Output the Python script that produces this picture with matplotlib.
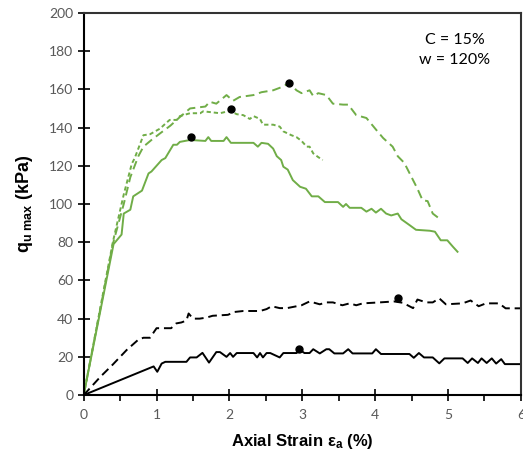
import matplotlib
matplotlib.use("Agg")
import matplotlib.pyplot as plt
from matplotlib.ticker import MultipleLocator

plt.rcParams['mathtext.fontset'] = 'custom'
plt.rcParams['mathtext.rm'] = 'Liberation Sans'
plt.rcParams['mathtext.bf'] = 'Liberation Sans:bold'
plt.rcParams['mathtext.it'] = 'Liberation Sans:italic'

# Green solid
gs_x = [0, 0.41, 0.52, 0.55, 0.64, 0.68, 0.80, 0.89, 0.93, 1.07, 1.12, 1.23, 1.28, 1.32, 1.46, 1.67, 1.71, 1.75, 1.92, 1.96, 2.02, 2.33, 2.39, 2.44, 2.53, 2.60, 2.65, 2.71, 2.74, 2.80, 2.87, 2.97, 3.05, 3.13, 3.22, 3.31, 3.49, 3.56, 3.60, 3.65, 3.81, 3.88, 3.95, 4.01, 4.08, 4.15, 4.22, 4.31, 4.36, 4.47, 4.56, 4.75, 4.82, 4.90, 4.99, 5.07, 5.13]
gs_y = [0, 79, 84, 95, 97, 104, 107, 116, 117, 123, 124, 131, 131, 132.5, 133.5, 133, 135, 133, 133, 135, 132, 132, 130, 132, 131.5, 129, 125, 123, 119.5, 118, 112.5, 109, 108, 104, 104, 101, 101, 98.5, 100, 98, 98, 96, 97.5, 95.5, 97.5, 95, 94, 95, 92, 89, 86.5, 86, 85.5, 81, 81, 77.5, 75]

# Green short dash
gd_x = [0, 0.40, 0.55, 0.66, 0.70, 0.82, 0.91, 0.98, 1.05, 1.12, 1.18, 1.28, 1.32, 1.46, 1.60, 1.64, 1.87, 1.98, 2.02, 2.10, 2.19, 2.28, 2.33, 2.42, 2.46, 2.60, 2.69, 2.74, 2.85, 2.92, 2.99, 3.06, 3.10, 3.15, 3.22, 3.28]
gd_y = [0, 80, 105, 121, 124, 136, 136.5, 138, 139.5, 142, 144, 144, 146, 147.5, 147.5, 148.5, 147.5, 148.5, 148.5, 147, 146.5, 144.5, 146, 144.5, 141.5, 141.5, 140.5, 138, 136, 135, 133, 130, 130, 126.5, 124.5, 123]

# Green long dash
gl_x = [0, 0.40, 0.55, 0.64, 0.75, 0.82, 0.93, 1.05, 1.19, 1.32, 1.46, 1.67, 1.73, 1.82, 1.96, 2.05, 2.14, 2.33, 2.44, 2.60, 2.74, 2.82, 2.92, 2.99, 3.10, 3.15, 3.22, 3.33, 3.42, 3.56, 3.63, 3.74, 3.88, 4.01, 4.11, 4.24, 4.31, 4.40, 4.52, 4.58, 4.65, 4.72, 4.79, 4.91]
gl_y = [0, 79, 100, 114, 125, 130, 133.5, 137, 141, 145.5, 150, 151, 153.5, 152.5, 157, 154, 156, 157, 158.5, 159.5, 161.5, 163.5, 159.5, 158, 159.5, 156.5, 158, 157, 152.5, 152, 152, 146.5, 145, 139, 134.5, 130, 125, 121.5, 112.5, 108, 102, 101.5, 95, 91.5]

# Black solid
bs_x = [0, 0.96, 1.01, 1.07, 1.12, 1.41, 1.46, 1.55, 1.63, 1.72, 1.82, 1.87, 1.96, 2.01, 2.05, 2.10, 2.28, 2.33, 2.38, 2.42, 2.46, 2.51, 2.56, 2.69, 2.74, 2.92, 2.97, 3.03, 3.10, 3.15, 3.24, 3.33, 3.37, 3.44, 3.56, 3.63, 3.69, 3.87, 3.96, 4.01, 4.08, 4.47, 4.53, 4.60, 4.67, 4.79, 4.88, 4.95, 5.20, 5.27, 5.33, 5.41, 5.46, 5.53, 5.60, 5.66, 5.73, 5.78, 5.84, 6.0]
bs_y = [0, 15, 12.2, 16.5, 17.4, 17.4, 19.7, 19.7, 22.1, 17, 22.5, 22.5, 20, 22, 20, 22, 22, 22, 19.7, 22, 19.7, 22, 22, 19.7, 22, 22, 23.5, 22, 22, 24, 21.8, 24, 24, 21.8, 21.8, 24, 21.8, 21.8, 21.8, 24, 21.5, 21.5, 19.5, 22, 19.7, 19.7, 16.6, 19.2, 19.2, 16.8, 19.2, 16.8, 19.2, 16.8, 19.2, 16.5, 18.8, 16.2, 16.2, 16.2]

# Black dashed
bd_x = [0, 0.23, 0.40, 0.59, 0.75, 0.82, 0.91, 1.00, 1.20, 1.27, 1.34, 1.41, 1.44, 1.50, 1.59, 1.68, 1.77, 1.98, 2.07, 2.19, 2.42, 2.51, 2.58, 2.69, 2.79, 2.99, 3.10, 3.24, 3.33, 3.42, 3.55, 3.65, 3.74, 3.83, 4.06, 4.26, 4.38, 4.52, 4.58, 4.70, 4.79, 4.88, 4.97, 5.20, 5.31, 5.42, 5.52, 5.70, 5.79, 6.0]
bd_y = [0, 9.6, 16, 23.6, 29, 30, 30, 35, 35, 37.5, 38, 39, 42.7, 40, 40, 40.5, 41.5, 42, 43.5, 44, 44, 45, 46.5, 45.5, 45.5, 47, 49, 47.5, 48.5, 48.5, 47, 48, 47, 48, 48.5, 49, 48.3, 45.5, 50, 48.5, 48.5, 50.6, 47.5, 48, 49.5, 46.5, 48, 48, 45.4, 45.4]

# Peak markers
pk_x = [1.47, 2.02, 2.82, 2.95, 4.31]
pk_y = [135.2, 149.7, 163.5, 24.0, 50.9]

GREEN = '#70AD47'

fig = plt.figure(figsize=(5.23, 4.61), dpi=100)
ax = fig.add_axes([0.16, 0.143, 0.836, 0.829])

ax.plot(gs_x, gs_y, color=GREEN, lw=1.4, solid_joinstyle='round')
ax.plot(gd_x, gd_y, color=GREEN, lw=1.4, dashes=(2.2, 1.5))
ax.plot(gl_x, gl_y, color=GREEN, lw=1.4, dashes=(4.5, 2.5))
ax.plot(bs_x, bs_y, color='black', lw=1.4, solid_joinstyle='round')
ax.plot(bd_x, bd_y, color='black', lw=1.4, dashes=(4.5, 2.5))
ax.plot(pk_x, pk_y, 'o', color='black', ms=5, zorder=5)

ax.set_xlim(0, 6)
ax.set_ylim(0, 200)
ax.xaxis.set_major_locator(MultipleLocator(1))
ax.xaxis.set_minor_locator(MultipleLocator(0.5))
ax.yaxis.set_major_locator(MultipleLocator(20))

ax.tick_params(axis='both', which='major', direction='inout', length=8, width=1.2,
               labelsize=10, labelcolor='#595959', color='black')
ax.tick_params(axis='x', which='minor', direction='out', length=4, width=1.2, color='black')
ax.tick_params(axis='x', which='major', pad=6)
for lab in ax.get_xticklabels() + ax.get_yticklabels():
    lab.set_fontfamily('Lato')
for sp in ax.spines.values():
    sp.set_linewidth(1.5)
    sp.set_color('#333333')
ax.spines['left'].set_color('black')
ax.spines['bottom'].set_color('black')

ax.text(5.09, 180.5, 'C = 15%\nw = 120%', ha='center', va='center', fontsize=11.5,
        family='Lato', linespacing=1.5)

ax.set_ylabel(r'$\mathbf{q_{u\ max}}$ (kPa)', fontsize=13, fontweight='bold',
              family='Liberation Sans', labelpad=10)
ax.set_xlabel(r'Axial Strain $\mathbf{\varepsilon_a}$ (%)', fontsize=12, fontweight='bold',
              family='Liberation Sans', labelpad=8)

fig.savefig('out.png', dpi=100)
